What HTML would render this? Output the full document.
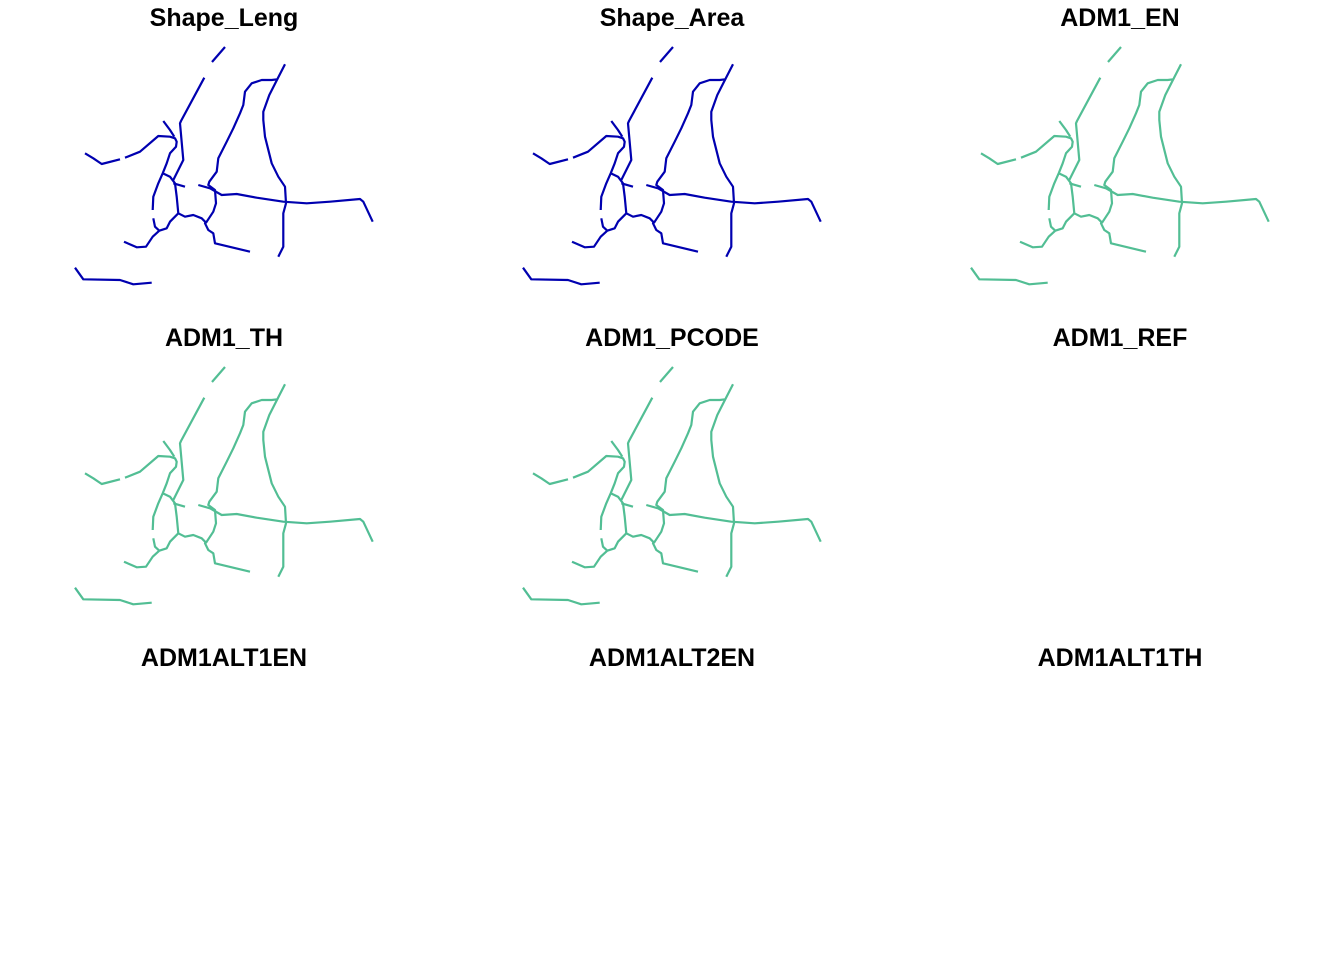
<!DOCTYPE html>
<html><head><meta charset="utf-8">
<style>
html,body{margin:0;padding:0;background:#fff;}
svg{display:block;}
text{font-family:"Liberation Sans",Arial,sans-serif;font-weight:bold;font-size:25px;text-anchor:middle;fill:#000;}
</style></head>
<body>
<svg id="chart" width="1344" height="960" viewBox="0 0 1344 960" xmlns="http://www.w3.org/2000/svg"></svg>
<script>
const panelTitles = ["Shape_Leng","Shape_Area","ADM1_EN","ADM1_TH","ADM1_PCODE","ADM1_REF","ADM1ALT1EN","ADM1ALT2EN","ADM1ALT1TH"];
const panelColors = ["#0000B0","#0000B0","#52BE94","#52BE94","#52BE94",null,null,null,null];
const lines = [
 [[212,62],[225,47]],
 [[204.3,77.7],[181,121],[180,123.3],[183.3,160],[173.3,180]],
 [[285,64.3],[277.3,79.3],[271.7,80],[261.7,80],[251.7,83.3],[245,91.7],[243.3,105],[240,113.3],[233.3,128.3],[226.7,141.7],[218.3,158.3],[216.7,171.7],[209.3,181.7],[208.3,185],[215,190],[216,203.3],[213.3,211.7],[206.7,221.7],[205,223.3],[208.3,230],[213.3,233.3],[215,243.3],[250,251.7]],
 [[277.3,79.3],[269.3,95],[263.3,111.7],[263.3,120],[265,136.7],[271.7,163.3],[278.3,176.7],[285,186.7],[286,203.3],[283.3,213.3],[283.3,246.7],[278.3,256.7]],
 [[198.3,185],[210,188.3],[221.7,195],[236.7,194],[256.7,197.7],[283.3,201.7],[306.7,203.3],[330,201.7],[360,199],[363.3,201.7],[372.7,221.7]],
 [[173.3,183.3],[185,186.7]],
 [[85,153.3],[93.3,158.3],[101.7,164],[120,159.3]],
 [[125,157.7],[140,151.7],[158.3,136],[170,136.7],[175,138.3],[176.7,141.7],[176,146.7],[170,153.3],[166.7,163.3],[162.7,173.3],[158.3,183.3],[153.3,196.7],[152.7,210]],
 [[153.3,218.3],[155,226.7],[159.3,230.7]],
 [[163.3,121],[170,130],[174.3,136.7]],
 [[162.7,173.3],[170,176.7],[175,183.3],[176.7,196.7],[178.3,213.3],[185,216.7],[193.3,215],[201.7,218.3],[206.7,223.3]],
 [[178.3,213.3],[170,221.7],[166.7,228.3],[159.3,230.7],[152.7,236.7],[146,246.7],[136.7,247.3],[124,241.7]],
 [[75,267.7],[83.3,279.3],[120,280],[133.3,284.3],[151.7,282.7]]
];
const NS="http://www.w3.org/2000/svg";
const svg=document.getElementById('chart');
panelTitles.forEach((t,i)=>{
  const dx=(i%3)*448, dy=Math.floor(i/3)*320;
  const g=document.createElementNS(NS,'g');
  
  
  const tx=document.createElementNS(NS,'text');
  tx.setAttribute('x',224+dx);tx.setAttribute('y',26+dy);
  tx.textContent=t;
  
  
  g.appendChild(tx);
  if(panelColors[i]){
    lines.forEach(pts=>{
      const p=document.createElementNS(NS,'polyline');
      p.setAttribute('points',pts.map(q=>(q[0]+dx)+','+(q[1]+dy)).join(' '));
      p.setAttribute('fill','none');
      p.setAttribute('stroke',panelColors[i]);
      p.setAttribute('stroke-width','2.2');
      p.setAttribute('stroke-linejoin','round');
      
      
      g.appendChild(p);
    });
  }
  svg.appendChild(g);
});
</script>
</body></html>
